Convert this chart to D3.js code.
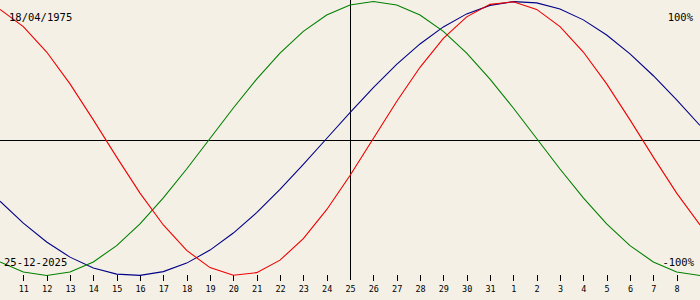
<!DOCTYPE html>
<html><head><meta charset="utf-8">
<script src="https://cdn.jsdelivr.net/npm/d3@7"></script>
<style>html,body{margin:0;padding:0;background:#f4f0e5;}svg{display:block;}</style>
</head><body>
<svg id="c" width="700" height="300"></svg>
<script>
// day offsets from 25-12-2025 (Dec 10 .. Jan 9)
const offsets = [-15,-14,-13,-12,-11,-10,-9,-8,-7,-6,-5,-4,-3,-2,-1,0,1,2,3,4,5,6,7,8,9,10,11,12,13,14,15];
const dayLabels = ["10","11","12","13","14","15","16","17","18","19","20","21","22","23","24","25","26","27","28","29","30","31","1","2","3","4","5","6","7","8","9"];
const physical = [0.9423,0.8170,0.6311,0.3984,0.1362,-0.1362,-0.3984,-0.6311,-0.8170,-0.9423,-0.9977,-0.9791,-0.8879,-0.7308,-0.5196,-0.2698,0,0.2698,0.5196,0.7308,0.8879,0.9791,0.9977,0.9423,0.8170,0.6311,0.3984,0.1362,-0.1362,-0.3984,-0.6311];
const emotional = [-0.9010,-0.9749,-1,-0.9749,-0.9010,-0.7818,-0.6235,-0.4339,-0.2225,0,0.2225,0.4339,0.6235,0.7818,0.9010,0.9749,1,0.9749,0.9010,0.7818,0.6235,0.4339,0.2225,0,-0.2225,-0.4339,-0.6235,-0.7818,-0.9010,-0.9749,-1];
const intellectual = [-0.4582,-0.6182,-0.7557,-0.8660,-0.9450,-0.9898,-0.9989,-0.9718,-0.9096,-0.8146,-0.6901,-0.5406,-0.3717,-0.1893,0,0.1893,0.3717,0.5406,0.6901,0.8146,0.9096,0.9718,0.9989,0.9898,0.9450,0.8660,0.7557,0.6182,0.4582,0.2817,0.0951];
const birthDate = "18/04/1975";
const currentDate = "25-12-2025";
const topLabel = "100%";
const bottomLabel = "-100%";

const svg = d3.select("#c");
const W = 700, H = 300;
const x = d3.scaleLinear().domain([-15, 15]).range([0, W]);
const y = d3.scaleLinear().domain([-1, 1]).range([275.5, 1.5]);

svg.append("rect").attr("width", W).attr("height", H).attr("fill", "#f4f0e5");

// horizontal zero axis
const ay = Math.round(y(0)) + 1.5;
svg.append("line").attr("x1", 0).attr("x2", W).attr("y1", ay).attr("y2", ay)
  .attr("stroke", "#000").attr("stroke-width", 1);
// vertical "today" line
const vx = Math.round(x(0)) + 0.5;
svg.append("line").attr("x1", vx).attr("x2", vx).attr("y1", 0).attr("y2", 280)
  .attr("stroke", "#000").attr("stroke-width", 1);

// ticks
const tickIdx = offsets.map((o, i) => i).filter(i => offsets[i] > -15 && offsets[i] < 15);
svg.selectAll("line.tick").data(tickIdx.filter(i => offsets[i] !== 0)).enter().append("line")
  .attr("class", "tick")
  .attr("x1", i => Math.round(x(offsets[i])) + 0.5).attr("x2", i => Math.round(x(offsets[i])) + 0.5)
  .attr("y1", 275).attr("y2", 281).attr("stroke", "#000").attr("stroke-width", 1);
svg.selectAll("text.tl").data(tickIdx.concat([])).enter().append("text")
  .attr("class", "tl")
  .attr("x", i => x(offsets[i]) + 0.5).attr("y", 291.5)
  .attr("text-anchor", "middle")
  .attr("font-family", "DejaVu Sans Mono, monospace").attr("font-size", 8.5)
  .attr("fill", "#000")
  .text(i => dayLabels[i]);

const line = d3.line().x((d, i) => x(offsets[i])).y(d => y(d)).curve(d3.curveLinear);
const series = [
  {v: intellectual, c: "#000088"},
  {v: emotional, c: "#008000"},
  {v: physical, c: "#ee0000"}
];
series.forEach(s => {
  svg.append("path").attr("d", line(s.v)).attr("fill", "none")
    .attr("stroke", s.c).attr("stroke-width", 1.1);
});

const tf = "DejaVu Sans Mono, monospace";
svg.append("text").attr("x", 9).attr("y", 21).attr("font-family", tf).attr("font-size", 10.5).attr("fill", "#000").text(birthDate);
svg.append("text").attr("x", 4).attr("y", 266).attr("font-family", tf).attr("font-size", 10.5).attr("fill", "#000").text(currentDate);
svg.append("text").attr("x", 693).attr("y", 21).attr("text-anchor", "end").attr("font-family", tf).attr("font-size", 10.5).attr("fill", "#000").text(topLabel);
svg.append("text").attr("x", 694).attr("y", 266).attr("text-anchor", "end").attr("font-family", tf).attr("font-size", 10.5).attr("fill", "#000").text(bottomLabel);
</script>
</body></html>
